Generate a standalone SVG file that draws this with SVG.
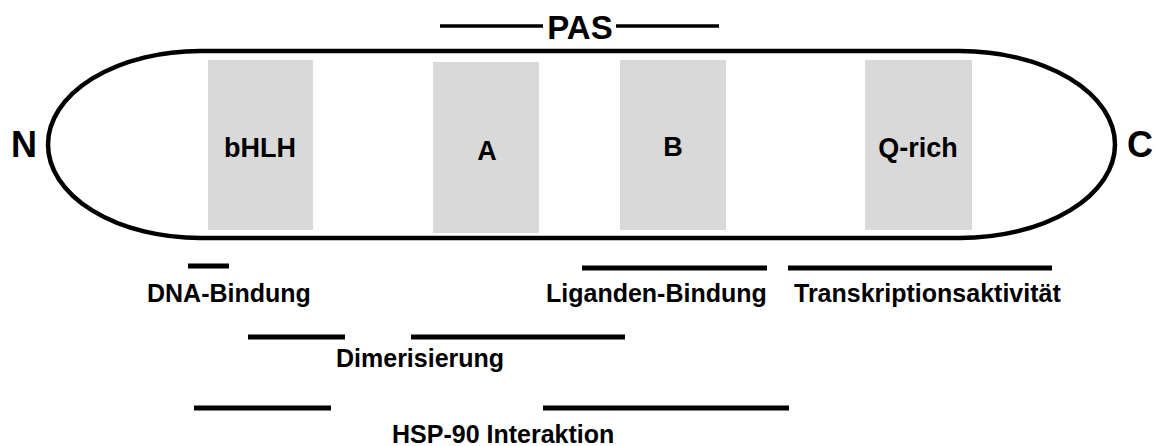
<svg xmlns="http://www.w3.org/2000/svg" width="1159" height="446" viewBox="0 0 1159 446">
<style>
text{font-family:"Liberation Sans",Arial,sans-serif;font-weight:bold;fill:#000}
.dom{fill:#d9d9d9}
.lbl{font-size:27px;text-anchor:middle}
.end{font-size:36px}
.fn{font-size:25px}
.bar{stroke:#000;stroke-width:5;fill:none}
.pas{stroke:#000;stroke-width:3.5;fill:none}
</style>
<rect width="1159" height="446" fill="#fff"/>
<g id="protein">
<path d="M200,51 H960 A155,93.5 0 0 1 960,238 H200 A152,93.5 0 0 1 200,51 Z" fill="none" stroke="#000" stroke-width="4.5"/>
</g>
<g id="N"><text class="end" x="11" y="157">N</text></g>
<g id="C"><text class="end" x="1127" y="157">C</text></g>
<g id="bHLH"><rect class="dom" x="208" y="60" width="105" height="170"/><text class="lbl" x="260" y="157">bHLH</text></g>
<g id="A"><rect class="dom" x="433" y="62" width="106" height="171"/><text class="lbl" x="487" y="160">A</text></g>
<g id="B"><rect class="dom" x="620" y="60" width="106" height="170"/><text class="lbl" x="673" y="156">B</text></g>
<g id="Qrich"><rect class="dom" x="865" y="60" width="107" height="170"/><text class="lbl" x="918" y="157">Q-rich</text></g>
<g id="PAS"><text x="580" y="39" font-size="33" text-anchor="middle">PAS</text></g>
<g id="connectors">
<line class="pas" x1="440" y1="26" x2="543" y2="26"/>
<line class="pas" x1="616" y1="26" x2="719" y2="26"/>
<line class="bar" x1="188" y1="266" x2="229" y2="266"/>
<line class="bar" x1="582" y1="268" x2="767" y2="268"/>
<line class="bar" x1="788" y1="268" x2="1052" y2="268"/>
<line class="bar" x1="248" y1="337" x2="345" y2="337"/>
<line class="bar" x1="411" y1="337" x2="625" y2="337"/>
<line class="bar" x1="194" y1="408" x2="331" y2="408"/>
<line class="bar" x1="543" y1="408" x2="789" y2="408"/>
</g>
<g id="labels">
<text class="fn" x="147" y="302">DNA-Bindung</text>
<text class="fn" x="546" y="302">Liganden-Bindung</text>
<text class="fn" x="794" y="302">Transkriptionsaktivität</text>
<text class="fn" x="336" y="367">Dimerisierung</text>
<text class="fn" x="392" y="443">HSP-90 Interaktion</text>
</g>
</svg>
